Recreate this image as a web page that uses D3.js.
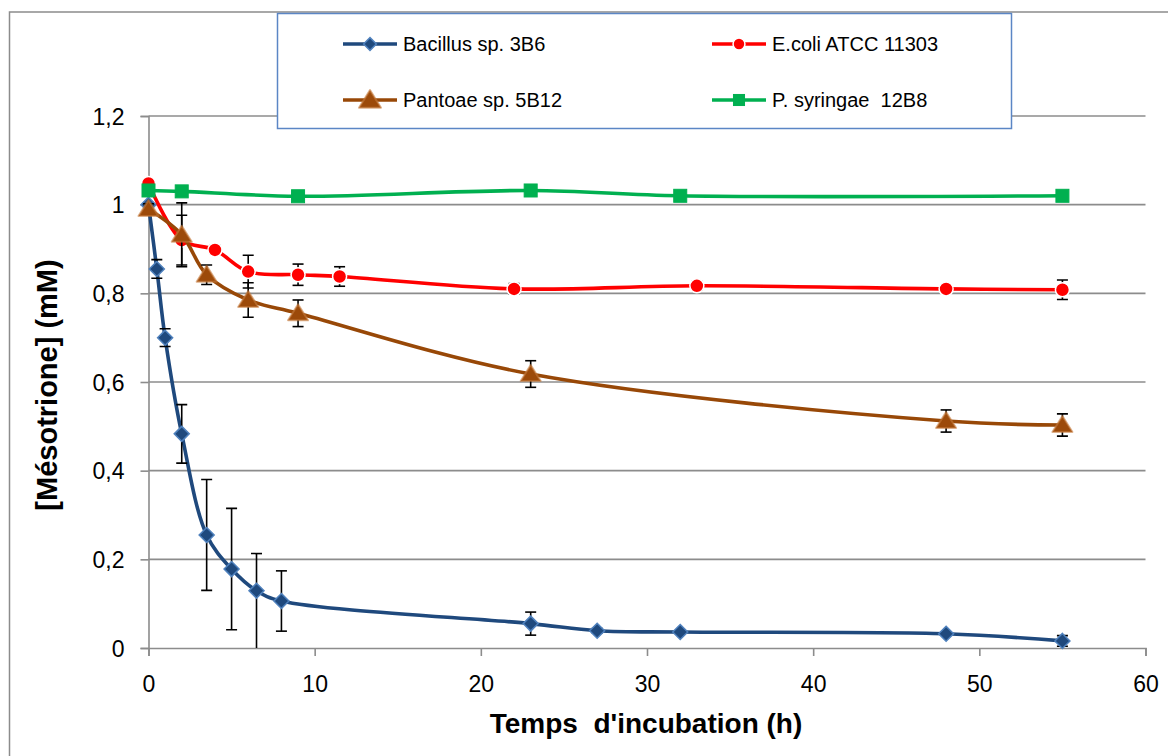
<!DOCTYPE html>
<html>
<head>
<meta charset="utf-8">
<script src="https://cdn.jsdelivr.net/npm/d3@7"></script>
<style>
  html, body { margin: 0; padding: 0; background: #fff; }
  svg { display: block; font-family: "Liberation Sans", Arial, sans-serif; }
</style>
</head>
<body>
<svg id="chart" width="1168" height="756"></svg>
<script>
// ---------------- data ----------------
const xTicks = [0, 10, 20, 30, 40, 50, 60];
const yTicks = [0, 0.2, 0.4, 0.6, 0.8, 1.0, 1.2];

const seriesNames = ["Bacillus sp. 3B6", "E.coli ATCC 11303", "Pantoae sp. 5B12", "P. syringae  12B8"];

const bacT = [0, 0.5, 1, 2, 3.5, 5, 6.5, 8, 23, 27, 32, 48, 55];
const bacV = [1.0, 0.855, 0.70, 0.483, 0.255, 0.178, 0.129, 0.106, 0.055, 0.039, 0.036, 0.032, 0.016];
const bacErrPlus  = [0, 0.021, 0.02, 0.066, 0.125, 0.137, 0.084, 0.068, 0.026, 0.005, 0, 0, 0.012];
const bacErrMinus = [0, 0.021, 0.02, 0.066, 0.125, 0.137, 0.15, 0.068, 0.026, 0.005, 0, 0, 0.012];

const ecT = [0, 2, 4, 6, 9, 11.5, 22, 33, 48, 55];
const ecV = [1.048, 0.92, 0.898, 0.849, 0.842, 0.838, 0.810, 0.817, 0.810, 0.808];
const ecErr = [0, 0.056, 0.01, 0.037, 0.024, 0.022, 0.012, 0.01, 0, 0.022];

const paT = [0, 2, 3.5, 6, 9, 23, 48, 55];
const paV = [0.99, 0.932, 0.842, 0.785, 0.755, 0.618, 0.512, 0.503];
const paErr = [0.012, 0.072, 0.022, 0.039, 0.03, 0.03, 0.025, 0.025];

const psT = [0, 2, 9, 23, 32, 55];
const psV = [1.032, 1.03, 1.019, 1.032, 1.02, 1.02];
const psErr = [0, 0, 0, 0, 0, 0];

// ---------------- setup ----------------
const svg = d3.select("#chart");
const W = 1168, H = 756;
const pLeft = 148.5, pRight = 1145.5, pTop = 116, pBottom = 648;

const x = d3.scaleLinear().domain([0, 60]).range([pLeft, pRight]);
const y = d3.scaleLinear().domain([0, 1.2]).range([pBottom, pTop]);

const gridColor = "#8c8c8c";

svg.append("rect").attr("width", W).attr("height", H).attr("fill", "#fff");

// outer chart frame (partly outside the picture)
svg.append("path")
  .attr("d", `M9.5,${H + 5} L9.5,12 L${W + 5},12`)
  .attr("fill", "none").attr("stroke", gridColor).attr("stroke-width", 1.5);

// clip
svg.append("clipPath").attr("id", "plotClip")
  .append("rect").attr("x", pLeft - 20).attr("y", pTop - 30)
  .attr("width", pRight - pLeft + 40).attr("height", pBottom - pTop + 30);

// gridlines
svg.append("g").selectAll("line").data(yTicks.filter(d => d > 0)).join("line")
  .attr("x1", pLeft).attr("x2", pRight)
  .attr("y1", d => y(d)).attr("y2", d => y(d))
  .attr("stroke", gridColor).attr("stroke-width", 1.6);

// axes
const fmt = d => d3.format("~g")(d).replace(".", ",");
const yAxis = svg.append("g").attr("transform", `translate(${pLeft},0)`)
  .call(d3.axisLeft(y).tickValues(yTicks).tickSize(8).tickPadding(16).tickFormat(fmt));
const xAxis = svg.append("g").attr("transform", `translate(0,${pBottom})`)
  .call(d3.axisBottom(x).tickValues(xTicks).tickSize(8).tickPadding(20).tickFormat(d3.format("d")));
[yAxis, xAxis].forEach(g => {
  g.select(".domain").attr("stroke", gridColor).attr("stroke-width", 1.6);
  g.selectAll(".tick line").attr("stroke", gridColor).attr("stroke-width", 1.6);
  g.selectAll(".tick text").attr("fill", "#000").style("font-size", "23px")
    .style("font-family", '"Liberation Sans", Arial, sans-serif');
});
yAxis.selectAll(".tick text").attr("dy", "0.36em");
xAxis.selectAll(".tick text").attr("dy", "0.71em");

// axis titles
svg.append("text")
  .attr("transform", `translate(57,385) rotate(-90)`)
  .attr("text-anchor", "middle")
  .style("font-size", "29px").style("font-weight", "bold")
  .text("[Mésotrione] (mM)");
svg.append("text")
  .attr("x", 646).attr("y", 733)
  .attr("text-anchor", "middle")
  .style("font-size", "28px").style("font-weight", "bold")
  .style("white-space", "pre")
  .text("Temps  d'incubation (h)");

// ---------------- series ----------------
const line = d3.line().curve(d3.curveCatmullRom.alpha(0.5)).x(d => x(d.t)).y(d => y(d.v));

const markerDefs = {
  diamond: (g, s) => g.append("path").attr("d", `M0,${-7.5*s} L${7.5*s},0 L0,${7.5*s} L${-7.5*s},0Z`)
      .attr("fill", "#1F497D").attr("stroke", "#4F81BD").attr("stroke-width", 1.5),
  circle: (g, s) => g.append("circle").attr("r", 7 * s)
      .attr("fill", "#FF0000").attr("stroke", "#fff").attr("stroke-width", 1.5),
  triangle: (g, s) => g.append("path").attr("d", `M0,${-9*s} L${10*s},${7*s} L${-10*s},${7*s}Z`)
      .attr("fill", "#9C4A0A").attr("stroke", "#C47A3C").attr("stroke-width", 2).attr("stroke-opacity", 0.6)
      .attr("stroke-linejoin", "round"),
  square: (g, s) => g.append("rect").attr("x", -6.5*s).attr("y", -6.5*s).attr("width", 13*s).attr("height", 13*s)
      .attr("fill", "#00B050").attr("stroke", "#00B050").attr("stroke-width", 1)
};

const series = [
  { name: seriesNames[0], t: bacT, v: bacV, ep: bacErrPlus, em: bacErrMinus, color: "#1F497D", marker: "diamond" },
  { name: seriesNames[1], t: ecT, v: ecV, ep: ecErr, em: ecErr, color: "#FF0000", marker: "circle" },
  { name: seriesNames[2], t: paT, v: paV, ep: paErr, em: paErr, color: "#984807", marker: "triangle" },
  { name: seriesNames[3], t: psT, v: psV, ep: psErr, em: psErr, color: "#00B050", marker: "square" }
];

const plot = svg.append("g");
series.forEach(s => {
  const pts = s.t.map((t, i) => ({ t, v: s.v[i], ep: s.ep[i], em: s.em[i] }));
  const g = plot.append("g");
  g.append("path").datum(pts).attr("d", line)
    .attr("fill", "none").attr("stroke", s.color).attr("stroke-width", 3.6)
    .attr("stroke-linejoin", "round");
  // error bars
  const eb = g.append("g").attr("clip-path", "url(#plotClip)")
    .selectAll("g").data(pts.filter(p => p.ep > 0 || p.em > 0)).join("g");
  eb.append("line")
    .attr("x1", p => x(p.t)).attr("x2", p => x(p.t))
    .attr("y1", p => y(p.v + p.ep)).attr("y2", p => y(p.v - p.em))
    .attr("stroke", "#000").attr("stroke-width", 1.6);
  eb.append("line")
    .attr("x1", p => x(p.t) - 5.5).attr("x2", p => x(p.t) + 5.5)
    .attr("y1", p => y(p.v + p.ep)).attr("y2", p => y(p.v + p.ep))
    .attr("stroke", "#000").attr("stroke-width", 1.6);
  eb.append("line")
    .attr("x1", p => x(p.t) - 5.5).attr("x2", p => x(p.t) + 5.5)
    .attr("y1", p => y(p.v - p.em)).attr("y2", p => y(p.v - p.em))
    .attr("stroke", "#000").attr("stroke-width", 1.6);
  // markers
  pts.forEach(p => {
    const mg = g.append("g").attr("transform", `translate(${x(p.t)},${y(p.v)})`);
    markerDefs[s.marker](mg, 1);
  });
});

// ---------------- legend ----------------
const lg = svg.append("g");
lg.append("rect").attr("x", 277.5).attr("y", 13.5).attr("width", 734).attr("height", 115)
  .attr("fill", "#fff").attr("stroke", "#5B86C5").attr("stroke-width", 1.5);
const legendPos = [[343, 44], [712, 44], [343, 100], [712, 100]];
series.forEach((s, i) => {
  const [lx, ly] = legendPos[i];
  const g = lg.append("g").attr("transform", `translate(${lx},${ly})`);
  g.append("line").attr("x1", 0).attr("x2", 54).attr("y1", 0).attr("y2", 0)
    .attr("stroke", s.color).attr("stroke-width", 3.6);
  const mg = g.append("g").attr("transform", "translate(27,0)");
  markerDefs[s.marker](mg, s.marker === "triangle" ? 1.1 : 0.85);
  g.append("text").attr("x", 60).attr("y", 0).attr("dy", "0.36em")
    .style("font-size", "20px").style("white-space", "pre").text(s.name);
});
</script>
</body>
</html>
